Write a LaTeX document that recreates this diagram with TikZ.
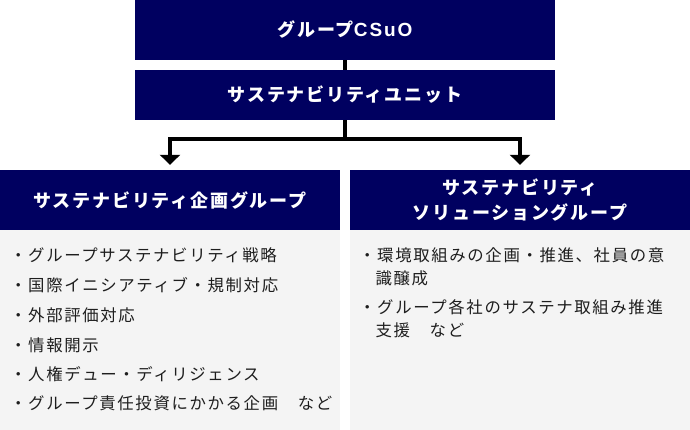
\documentclass[tikz,border=0pt]{standalone}
\usepackage{fontspec}
\newfontfamily\jpfont[LetterSpace=10]{Noto Sans CJK JP}
\newfontfamily\latinfont[LetterSpace=10]{Liberation Sans}
\usetikzlibrary{arrows.meta}
\definecolor{navy}{HTML}{000060}
\definecolor{panel}{HTML}{F4F4F4}
\definecolor{ink}{HTML}{1E1E1E}

\begin{document}
\begin{tikzpicture}[x=1pt, y=1pt,
		headbox/.style={fill=navy, text=white, inner sep=0pt, align=center,
			font=\jpfont\bfseries\fontsize{18}{25}\selectfont},
		bodybox/.style={fill=panel, inner sep=0pt, minimum width=340, minimum height=200},
		item/.style={anchor=west, inner sep=0pt, text=ink, align=left,
			font=\jpfont\fontsize{16.4}{23}\selectfont},
		conn/.style={line width=4pt, draw=black}]
		%%%%% START %%%%%
		
		\useasboundingbox (0, 0) rectangle (690, -430);
		
		\node[headbox, minimum width=420, minimum height=60] (csuo) at (345, -30) {グループ{\latinfont\bfseries\fontsize{19}{25}\selectfont CSuO}};
		\node[headbox, minimum width=420, minimum height=50] (unit) at (345, -95) {サステナビリティユニット};
		
		\node[bodybox] (planbody) at (170, -330) {};
		\node[bodybox] (solbody) at (520, -330) {};
		\node[headbox, minimum width=340, minimum height=60] (plan) at (170, -200) {サステナビリティ企画グループ};
		\node[headbox, minimum width=340, minimum height=60] (sol) at (520, -200) {サステナビリティ\\ソリューショングループ};
		
		\coordinate (split) at (345, -139.5);
		\draw[conn] (csuo) -- (unit);
		\draw[conn] (unit) -- (split);
		\draw[conn, {Triangle[width=20pt, length=10pt]}-{Triangle[width=20pt, length=10pt]}, shorten <=5pt, shorten >=5pt]
			(plan.north) |- (split) -| (sol.north);
		
		\node[item] (p1) at (10, -255) {・グループサステナビリティ戦略};
		\node[item] (p2) at (10, -285) {・国際イニシアティブ・規制対応};
		\node[item] (p3) at (10, -315) {・外部評価対応};
		\node[item] (p4) at (10, -345) {・情報開示};
		\node[item] (p5) at (10, -374) {・人権デュー・ディリジェンス};
		\node[item] (p6) at (10, -403) {・グループ責任投資にかかる企画　など};
		
		\node[item] (s1) at (359, -266.5) {・環境取組みの企画・推進、社員の意\\\phantom{・}識醸成};
		\node[item] (s2) at (359, -319) {・グループ各社のサステナ取組み推進\\\phantom{・}支援　など};
		
		%%%%% END %%%%%
\end{tikzpicture}
\end{document}
